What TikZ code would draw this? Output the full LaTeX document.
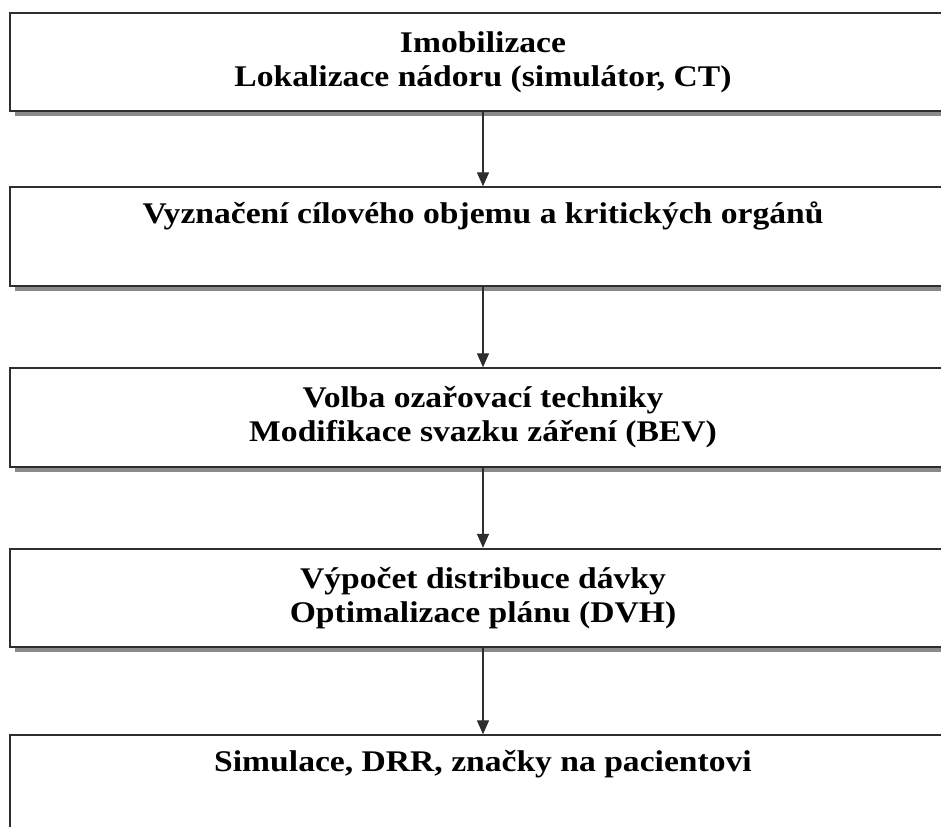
\documentclass[tikz,border=0pt]{standalone}
\usepackage{fontspec}
\setmainfont{Liberation Serif}[FakeStretch=1.12]
\usepackage{tikz}
\usetikzlibrary{arrows.meta,positioning,shadows}
\definecolor{stageline}{HTML}{2E2E2E}
\definecolor{stageshadow}{HTML}{8A8A8A}

\begin{document}
\begin{tikzpicture}[
    stage/.style={draw=stageline, line width=1.1pt, fill=white, minimum width=18.92cm, minimum height=1.97cm,
        align=center, font=\fontsize{17.07}{19.35}\selectfont\bfseries,
        drop shadow={shadow xshift=0.1cm, shadow yshift=-0.1cm, fill=stageshadow, opacity=1}},
    topline/.style={text height=0.45cm, text depth=0.99cm},
    arrow/.style={-{Triangle[length=0.28cm, width=0.24cm]}, line width=0.8pt, stageline}
]
    \useasboundingbox (0,0) rectangle (18.82,-16.54);

    % Stage 1: Imobilizace
    \node[stage] (imob) at (9.66,-1.24) {Imobilizace\\Lokalizace nádoru (simulátor, CT)};

    % Stage 2: Vyznaceni
    \node[stage, topline] (target) at (9.66,-4.73) {Vyznačení cílového objemu a kritických orgánů};

    % Stage 3: Volba techniky
    \node[stage] (technique) at (9.66,-8.35) {Volba ozařovací techniky\\Modifikace svazku záření (BEV)};

    % Stage 4: Vypocet
    \node[stage] (dose) at (9.66,-11.96) {Výpočet distribuce dávky\\Optimalizace plánu (DVH)};

    % Stage 5: Simulace
    \node[stage, topline] (sim) at (9.66,-15.69) {Simulace, DRR, značky na pacientovi};

    % Arrows
    \draw[arrow] (imob) -- (target);
    \draw[arrow] (target) -- (technique);
    \draw[arrow] (technique) -- (dose);
    \draw[arrow] (dose) -- (sim);
\end{tikzpicture}
\end{document}
